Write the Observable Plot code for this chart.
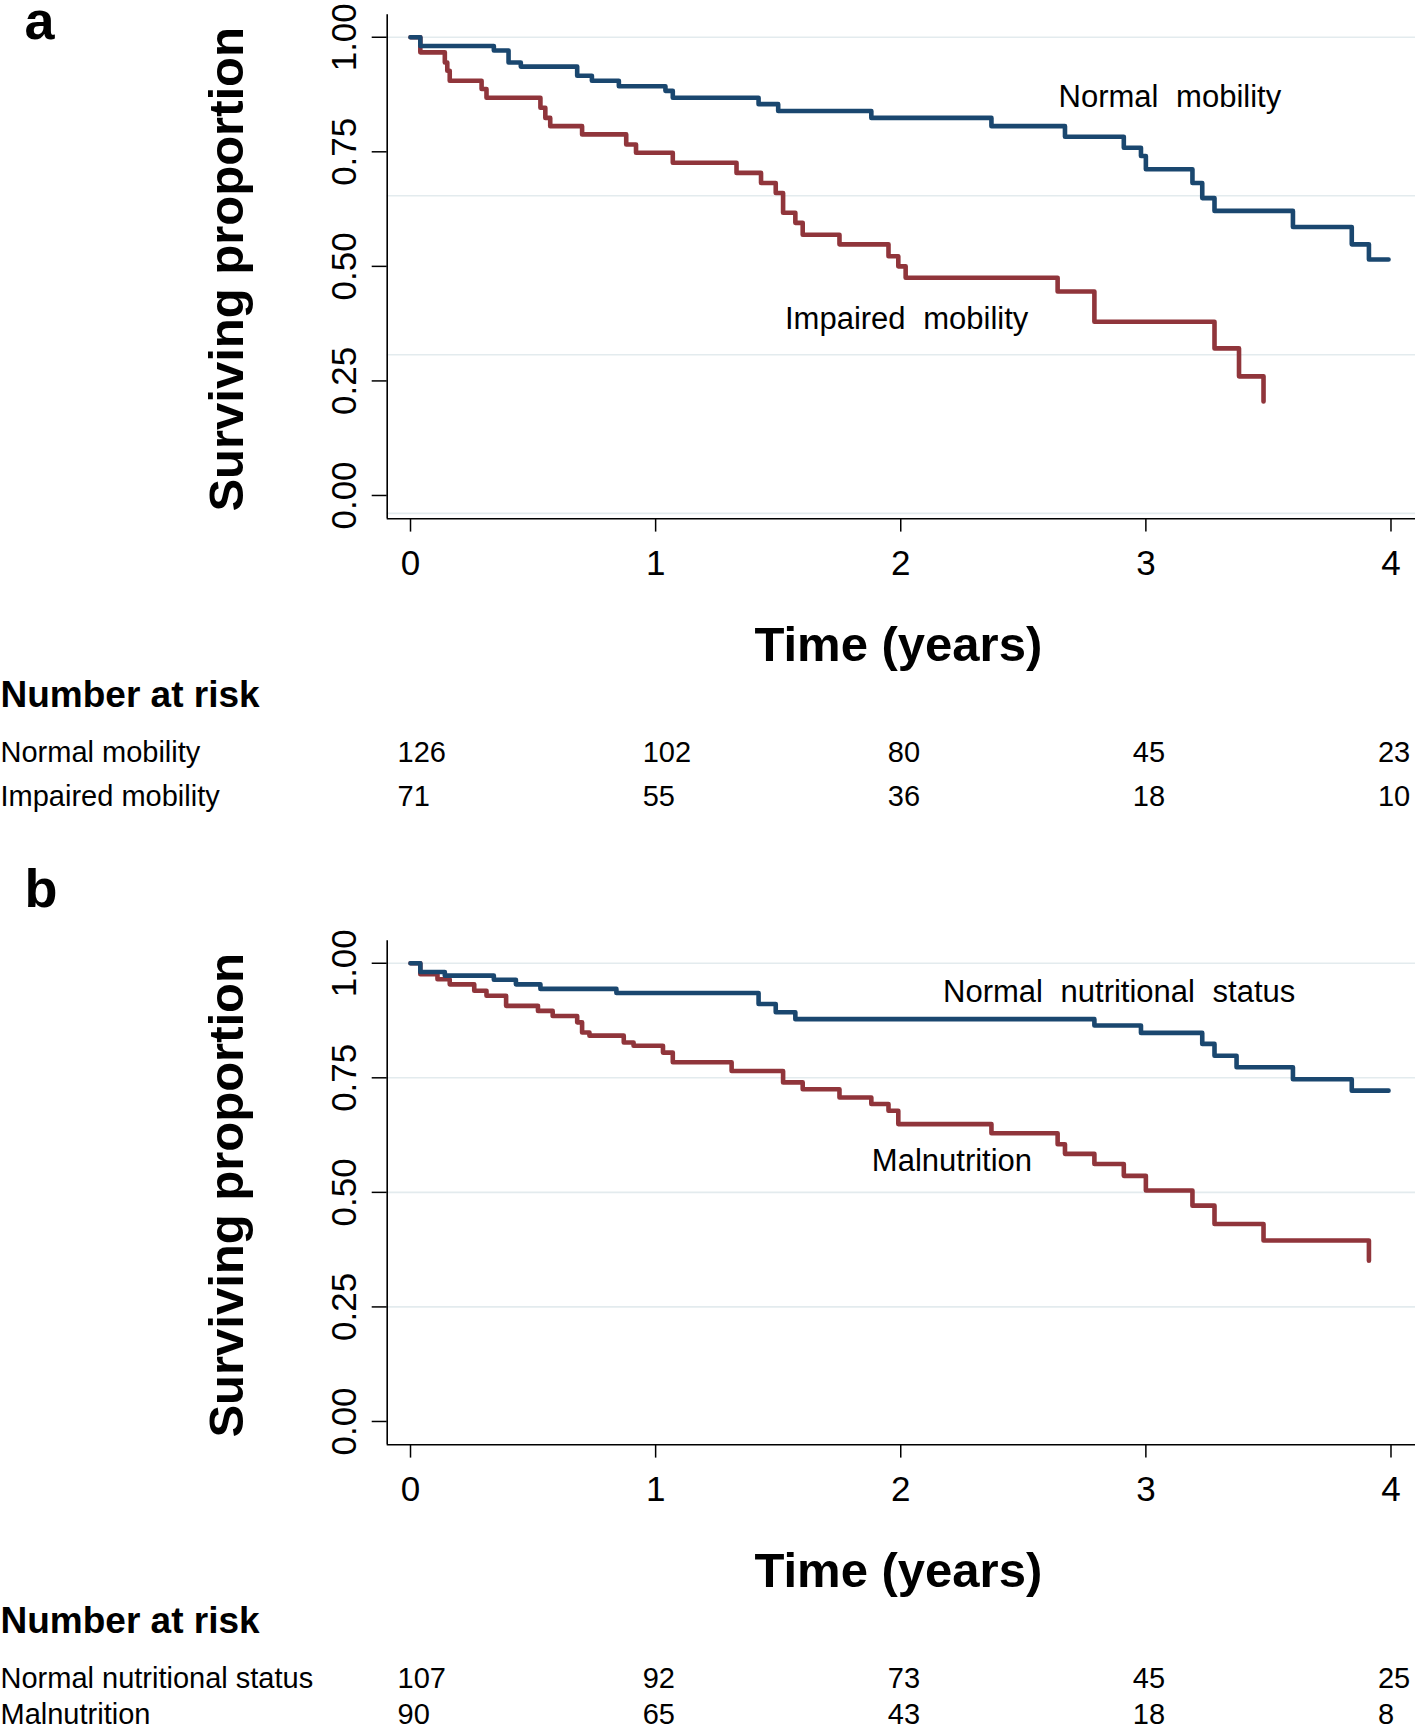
<!DOCTYPE html>
<html>
<head>
<meta charset="utf-8">
<script src="https://cdn.jsdelivr.net/npm/d3@7"></script>
<script src="https://cdn.jsdelivr.net/npm/@observablehq/plot@0.6"></script>
<style>
  html, body { margin: 0; padding: 0; background: #fff; }
  #chart { width: 1418px; }
  #chart svg { display: block; }
  .curve-label text, text.curve-label { word-spacing: 9px; }
</style>
</head>
<body>
<div id="chart"></div>
<script>
// ---------- DATA ----------
const xTicks = [0, 1, 2, 3, 4];
const yTicks = [0, 0.25, 0.5, 0.75, 1];
const riskTimes = [0, 1, 2, 3, 4];

// Panel a: mobility
const tA_normal = [0, 0.04, 0.34, 0.40, 0.45, 0.68, 0.74, 0.85, 1.04, 1.07, 1.42, 1.50, 1.88, 2.37, 2.67, 2.91, 2.98, 3.00, 3.19, 3.23, 3.28, 3.60, 3.84, 3.91, 3.99];
const sA_normal = [1.0, 0.981, 0.971, 0.945, 0.936, 0.916, 0.905, 0.893, 0.883, 0.868, 0.854, 0.839, 0.824, 0.806, 0.783, 0.759, 0.741, 0.712, 0.682, 0.649, 0.621, 0.586, 0.548, 0.515, 0.515];
const tA_impaired = [0, 0.04, 0.14, 0.15, 0.16, 0.29, 0.31, 0.53, 0.55, 0.57, 0.70, 0.88, 0.92, 1.07, 1.33, 1.43, 1.49, 1.52, 1.57, 1.60, 1.75, 1.95, 1.99, 2.02, 2.64, 2.79, 3.28, 3.38, 3.48];
const sA_impaired = [1.0, 0.967, 0.945, 0.927, 0.905, 0.887, 0.868, 0.846, 0.824, 0.806, 0.788, 0.766, 0.748, 0.726, 0.704, 0.682, 0.660, 0.617, 0.595, 0.569, 0.548, 0.522, 0.500, 0.475, 0.445, 0.379, 0.321, 0.260, 0.205];
const riskA_rowNames = ["Normal mobility", "Impaired mobility"];
const riskA_normal = [126, 102, 80, 45, 23];
const riskA_impaired = [71, 55, 36, 18, 10];
const labelA_text = ["Normal mobility", "Impaired mobility"];
const labelA_x = [3.098, 2.024];
const labelA_y = [0.869, 0.386];
const gridA = [1, 0.654, 0.307, -0.039];

// Panel b: nutritional status
const tB_normal = [0, 0.04, 0.14, 0.34, 0.43, 0.53, 0.84, 1.42, 1.49, 1.57, 2.79, 2.98, 3.23, 3.28, 3.37, 3.60, 3.84, 3.99];
const sB_normal = [1.0, 0.981, 0.973, 0.964, 0.954, 0.944, 0.935, 0.911, 0.893, 0.878, 0.864, 0.848, 0.824, 0.798, 0.773, 0.747, 0.722, 0.722];
const tB_mal = [0, 0.04, 0.11, 0.16, 0.26, 0.31, 0.39, 0.52, 0.58, 0.68, 0.70, 0.73, 0.87, 0.91, 1.03, 1.07, 1.31, 1.52, 1.60, 1.75, 1.88, 1.95, 1.99, 2.37, 2.64, 2.67, 2.79, 2.91, 3.00, 3.19, 3.28, 3.48, 3.91];
const sB_mal = [1.0, 0.976, 0.965, 0.954, 0.940, 0.929, 0.907, 0.896, 0.885, 0.871, 0.849, 0.842, 0.827, 0.820, 0.805, 0.784, 0.765, 0.740, 0.725, 0.707, 0.693, 0.678, 0.649, 0.629, 0.605, 0.584, 0.562, 0.536, 0.504, 0.471, 0.431, 0.395, 0.351];
const riskB_rowNames = ["Normal nutritional status", "Malnutrition"];
const riskB_normal = [107, 92, 73, 45, 25];
const riskB_mal = [90, 65, 43, 18, 8];
const labelB_text = ["Normal nutritional status", "Malnutrition"];
const labelB_x = [2.891, 2.209];
const labelB_y = [0.937, 0.568];
const gridB = [1, 0.75, 0.5, 0.25];

// ---------- STYLE / LAYOUT ----------
const FONT = "'Liberation Sans', Arial, Helvetica, sans-serif";
const BLUE = "#1a476f";
const RED = "#90353b";
const xDomain = [-0.0951, 4.1];
const yDomain = [-0.0509, 1.049];
const ML = 386.7, MR = 3, FRAME_H = 504;

function toSeries(t, s) { return t.map((d, i) => ({t: d, s: s[i]})); }

function panel(cfg) {
  const mb = cfg.height - cfg.marginTop - FRAME_H;
  const labels = cfg.labelText.map((txt, i) => ({txt, x: cfg.labelX[i], y: cfg.labelY[i]}));
  const rowDy = cfg.rowDy;
  const rowMarks = [];
  cfg.rows.forEach((vals, k) => {
    rowMarks.push(Plot.text([cfg.rowNames[k]], {
      frameAnchor: "bottom-left", dx: -ML, dy: rowDy[k], textAnchor: "start",
      lineAnchor: "bottom", fontSize: 29
    }));
    rowMarks.push(Plot.text(vals, {
      x: (d, i) => riskTimes[i], text: d => String(d), frameAnchor: "bottom",
      dx: -13, dy: rowDy[k], textAnchor: "start", lineAnchor: "bottom", fontSize: 29
    }));
  });
  return Plot.plot({
    width: 1418, height: cfg.height,
    marginLeft: ML, marginRight: MR, marginTop: cfg.marginTop, marginBottom: mb,
    style: {fontFamily: FONT, background: "#fff", color: "#000", overflow: "visible"},
    x: {domain: xDomain},
    y: {domain: yDomain},
    marks: [
      Plot.gridY(cfg.grid, {stroke: "#e3ebee", strokeOpacity: 1, strokeWidth: 1.6}),
      Plot.line(cfg.s2, {x: "t", y: "s", curve: "step-after", stroke: RED, strokeWidth: 4.6}),
      Plot.line(cfg.s1, {x: "t", y: "s", curve: "step-after", stroke: BLUE, strokeWidth: 4.6}),
      Plot.ruleX([xDomain[0]], {stroke: "#000", strokeWidth: 1.6}),
      Plot.ruleY([yDomain[0]], {stroke: "#000", strokeWidth: 1.6}),
      Plot.axisX({ticks: xTicks, tickFormat: "d", tickSize: 13.3, tickPadding: 18.4, fontSize: 35, label: null, strokeWidth: 1.5}),
      Plot.axisY({ticks: yTicks, tickSize: 15, tickFormat: () => "", label: null, strokeWidth: 1.5}),
      Plot.text(yTicks, {y: d => d, text: d => d3.format(".2f")(d), frameAnchor: "left", dx: -42.7,
        rotate: -90, textAnchor: "middle", lineAnchor: "middle", fontSize: 35}),
      Plot.text(["Surviving proportion"], {frameAnchor: "left", dx: -144.7, dy: 2.5, rotate: -90,
        textAnchor: "middle", lineAnchor: "bottom", fontSize: 49, fontWeight: "bold"}),
      Plot.text(["Time (years)"], {frameAnchor: "bottom", dx: -3, dy: 141.7, lineAnchor: "bottom",
        textAnchor: "middle", fontSize: 49, fontWeight: "bold"}),
      Plot.text(["Number at risk"], {frameAnchor: "bottom-left", dx: -ML, dy: 188.4, textAnchor: "start",
        lineAnchor: "bottom", fontSize: 37, fontWeight: "bold"}),
      ...rowMarks,
      Plot.text(labels, {x: "x", y: "y", text: "txt", fontSize: 31, textAnchor: "middle", lineAnchor: "middle", className: "curve-label"}),
      Plot.text([cfg.letter], {frameAnchor: "top-left", dx: 24 - ML, dy: cfg.letterBaseline - cfg.marginTop,
        textAnchor: "start", lineAnchor: "bottom", fontSize: 54, fontWeight: "bold"})
    ]
  });
}

const chart = document.getElementById("chart");
chart.append(panel({
  height: 870, marginTop: 14.3, letter: "a", letterBaseline: 38, rowDy: [243.4, 286.7],
  s1: toSeries(tA_normal, sA_normal), s2: toSeries(tA_impaired, sA_impaired),
  rows: [riskA_normal, riskA_impaired], rowNames: riskA_rowNames,
  labelText: labelA_text, labelX: labelA_x, labelY: labelA_y, grid: gridA
}));
chart.append(panel({
  height: 862, marginTop: 70.3, letter: "b", letterBaseline: 36.7, rowDy: [243.4, 279.5],
  s1: toSeries(tB_normal, sB_normal), s2: toSeries(tB_mal, sB_mal),
  rows: [riskB_normal, riskB_mal], rowNames: riskB_rowNames,
  labelText: labelB_text, labelX: labelB_x, labelY: labelB_y, grid: gridB
}));
</script>
</body>
</html>
